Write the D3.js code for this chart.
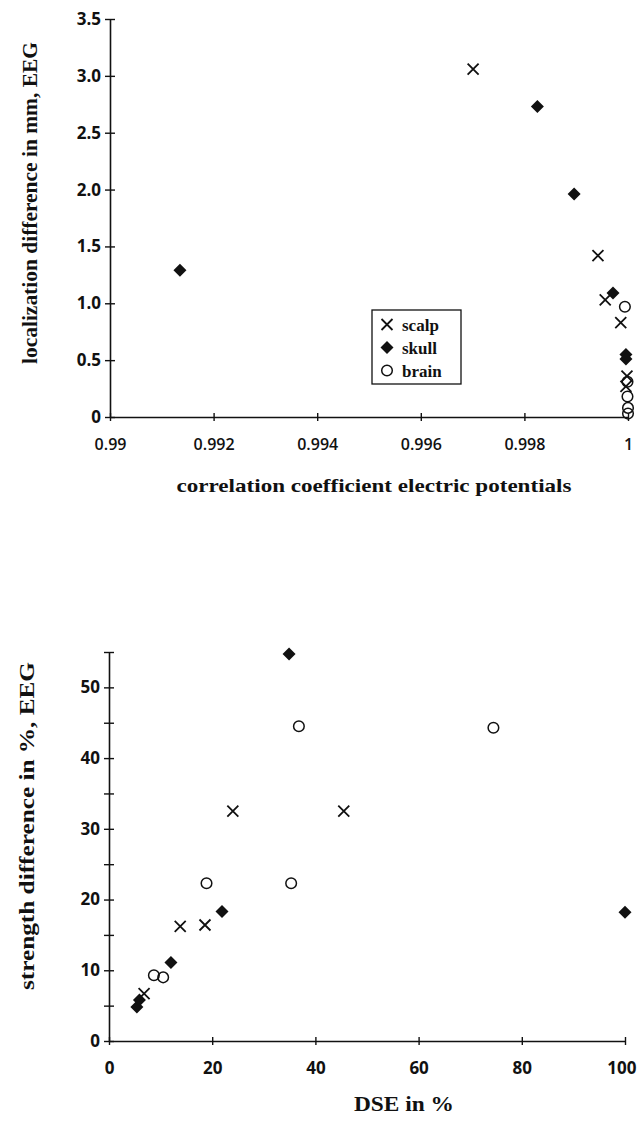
<!DOCTYPE html>
<html>
<head>
<meta charset="utf-8">
<script src="https://cdn.jsdelivr.net/npm/d3@7"></script>
<style>
  body { margin: 0; background: #fff; }
  .tick text { font-family: "Open Sans", "DejaVu Sans", sans-serif; font-weight: 700; fill: #111; }
  .title { font-family: "Liberation Serif", "DejaVu Serif", serif; font-weight: 700; fill: #111; }
</style>
</head>
<body>
<script>
// top chart: correlation coefficient vs localization difference
var scalpCorr = [0.99701, 0.99942, 0.99956, 0.99986, 0.99998, 0.99996];
var scalpLoc  = [3.06, 1.42, 1.03, 0.83, 0.36, 0.27];
var skullCorr = [0.99135, 0.99825, 0.99896, 0.99971, 0.99996, 0.99996];
var skullLoc  = [1.29, 2.73, 1.96, 1.09, 0.55, 0.51];
var brainCorr = [0.99994, 0.99999, 0.99999, 1.0, 1.0];
var brainLoc  = [0.97, 0.31, 0.18, 0.08, 0.03];
var topXTicks = [0.99, 0.992, 0.994, 0.996, 0.998, 1];
var topYTicks = [0, 0.5, 1.0, 1.5, 2.0, 2.5, 3.0, 3.5];

// bottom chart: DSE vs strength difference
var scalpDse = [6.8, 13.8, 18.6, 24, 45.5];
var scalpStr = [6.7, 16.2, 16.4, 32.5, 32.5];
var skullDse = [5.4, 5.9, 12, 21.9, 34.9, 100];
var skullStr = [4.8, 5.8, 11.1, 18.3, 54.7, 18.2];
var brainDse = [8.7, 10.5, 18.9, 35.3, 36.8, 74.5];
var brainStr = [9.3, 9.0, 22.3, 22.3, 44.5, 44.3];
var botXTicks = [0, 20, 40, 60, 80, 100];
var botYTicks = [0, 5, 10, 15, 20, 25, 30, 35, 40, 45, 50, 55];
var botYLabels = [0, 10, 20, 30, 40, 50];

var legendNames = ["scalp", "skull", "brain"];

var svg = d3.select("body").append("svg")
  .attr("width", 638)
  .attr("height", 1125);

function zip(a, b) { return a.map(function(v, i) { return [v, b[i]]; }); }

function drawMarkers(g, pts, kind, x, y) {
  if (kind == "scalp") {
    g.selectAll(null).data(pts).enter().append("path")
      .attr("d", function(d) {
        var cx = x(d[0]), cy = y(d[1]), r = 5.5;
        return "M" + (cx - r) + "," + (cy - r) + "L" + (cx + r) + "," + (cy + r) +
               "M" + (cx - r) + "," + (cy + r) + "L" + (cx + r) + "," + (cy - r);
      })
      .attr("stroke", "#111").attr("stroke-width", 1.8).attr("fill", "none");
  } else if (kind == "skull") {
    g.selectAll(null).data(pts).enter().append("path")
      .attr("d", function(d) {
        var cx = x(d[0]), cy = y(d[1]), r = 6.5;
        return "M" + cx + "," + (cy - r) + "L" + (cx + r) + "," + cy +
               "L" + cx + "," + (cy + r) + "L" + (cx - r) + "," + cy + "Z";
      })
      .attr("fill", "#111");
  } else {
    g.selectAll(null).data(pts).enter().append("circle")
      .attr("cx", function(d) { return x(d[0]); })
      .attr("cy", function(d) { return y(d[1]); })
      .attr("r", 5.3)
      .attr("fill", "none").attr("stroke", "#111").attr("stroke-width", 1.5);
  }
}

// ---------- top chart ----------
var x1 = d3.scaleLinear().domain([0.99, 1]).range([110, 628]);
var y1 = d3.scaleLinear().domain([0, 3.5]).range([417, 19]);

var ax1 = svg.append("g")
  .attr("transform", "translate(0,417)")
  .call(d3.axisBottom(x1).tickValues(topXTicks).tickSize(4).tickSizeOuter(0)
    .tickFormat(function(d) { return d == 1 ? "1" : d3.format(".3~f")(d); }));
ax1.selectAll(".tick line").attr("y1", -4);
ax1.selectAll(".tick text").attr("dy", "1.6em").style("font-size", "16px").style("font-weight", 600);

var ay1 = svg.append("g")
  .attr("transform", "translate(110,0)")
  .call(d3.axisLeft(y1).tickValues(topYTicks).tickSize(5).tickSizeOuter(0)
    .tickFormat(function(d) { return d == 0 ? "0" : d3.format(".1f")(d); }));
ay1.selectAll(".tick line").attr("x1", 5);
ay1.selectAll(".tick text").attr("x", -9).style("font-size", "17px");

var p1 = svg.append("g");
drawMarkers(p1, zip(scalpCorr, scalpLoc), "scalp", x1, y1);
drawMarkers(p1, zip(skullCorr, skullLoc), "skull", x1, y1);
drawMarkers(p1, zip(brainCorr, brainLoc), "brain", x1, y1);

svg.append("text").attr("class", "title")
  .attr("x", 374).attr("y", 492)
  .attr("text-anchor", "middle")
  .attr("font-size", 19)
  .attr("textLength", 395).attr("lengthAdjust", "spacingAndGlyphs")
  .text("correlation coefficient electric potentials");

svg.append("text").attr("class", "title")
  .attr("transform", "translate(37,203) rotate(-90)")
  .attr("text-anchor", "middle")
  .attr("font-size", 20)
  .attr("textLength", 322).attr("lengthAdjust", "spacingAndGlyphs")
  .text("localization difference in mm, EEG");

// legend
var lg = svg.append("g").attr("transform", "translate(372,310)");
lg.append("rect").attr("width", 89).attr("height", 74)
  .attr("fill", "#fff").attr("stroke", "#111").attr("stroke-width", 1.3);
var lx = d3.scaleLinear().domain([0, 1]).range([15, 16]);
var ly = d3.scaleBand().domain(legendNames).range([3, 72]);
legendNames.forEach(function(n) {
  var cy = ly(n) + ly.bandwidth() / 2;
  var my = d3.scaleLinear().domain([0, 1]).range([cy, cy - 1]);
  drawMarkers(lg, [[0, 0]], n, lx, my);
  lg.append("text").attr("class", "title")
    .attr("x", 30).attr("y", cy + 6)
    .attr("font-size", 17)
    .text(n);
});

// ---------- bottom chart ----------
var x2 = d3.scaleLinear().domain([0, 100]).range([109, 625]);
var y2 = d3.scaleLinear().domain([0, 55]).range([1041, 652]);

var ax2 = svg.append("g")
  .attr("transform", "translate(0,1041)")
  .call(d3.axisBottom(x2).tickValues(botXTicks).tickSize(4).tickSizeOuter(0));
ax2.selectAll(".tick line").attr("y1", -4);
ax2.selectAll(".tick text").attr("dy", "1.5em").style("font-size", "17px")
  .attr("text-anchor", function(d) { return d == 100 ? "end" : "middle"; })
  .attr("x", function(d) { return d == 100 ? 11 : 0; });

var ay2 = svg.append("g")
  .attr("transform", "translate(109,0)")
  .call(d3.axisLeft(y2).tickValues(botYTicks).tickSize(5).tickSizeOuter(0)
    .tickFormat(function(d) { return botYLabels.indexOf(d) >= 0 ? d : ""; }));
ay2.selectAll(".tick line").attr("x1", 5);
ay2.selectAll(".tick text").attr("x", -9).style("font-size", "17px");

svg.selectAll(".domain").attr("stroke", "#111").attr("stroke-width", 1.6);
svg.selectAll(".tick line").attr("stroke", "#111").attr("stroke-width", 1.4);

var p2 = svg.append("g");
drawMarkers(p2, zip(scalpDse, scalpStr), "scalp", x2, y2);
drawMarkers(p2, zip(skullDse, skullStr), "skull", x2, y2);
drawMarkers(p2, zip(brainDse, brainStr), "brain", x2, y2);

svg.append("text").attr("class", "title")
  .attr("x", 404).attr("y", 1111)
  .attr("text-anchor", "middle")
  .attr("font-size", 21)
  .attr("textLength", 100).attr("lengthAdjust", "spacingAndGlyphs")
  .text("DSE in %");

svg.append("text").attr("class", "title")
  .attr("transform", "translate(34,826) rotate(-90)")
  .attr("text-anchor", "middle")
  .attr("font-size", 20)
  .attr("textLength", 328).attr("lengthAdjust", "spacingAndGlyphs")
  .text("strength difference in %, EEG");
</script>
</body>
</html>
